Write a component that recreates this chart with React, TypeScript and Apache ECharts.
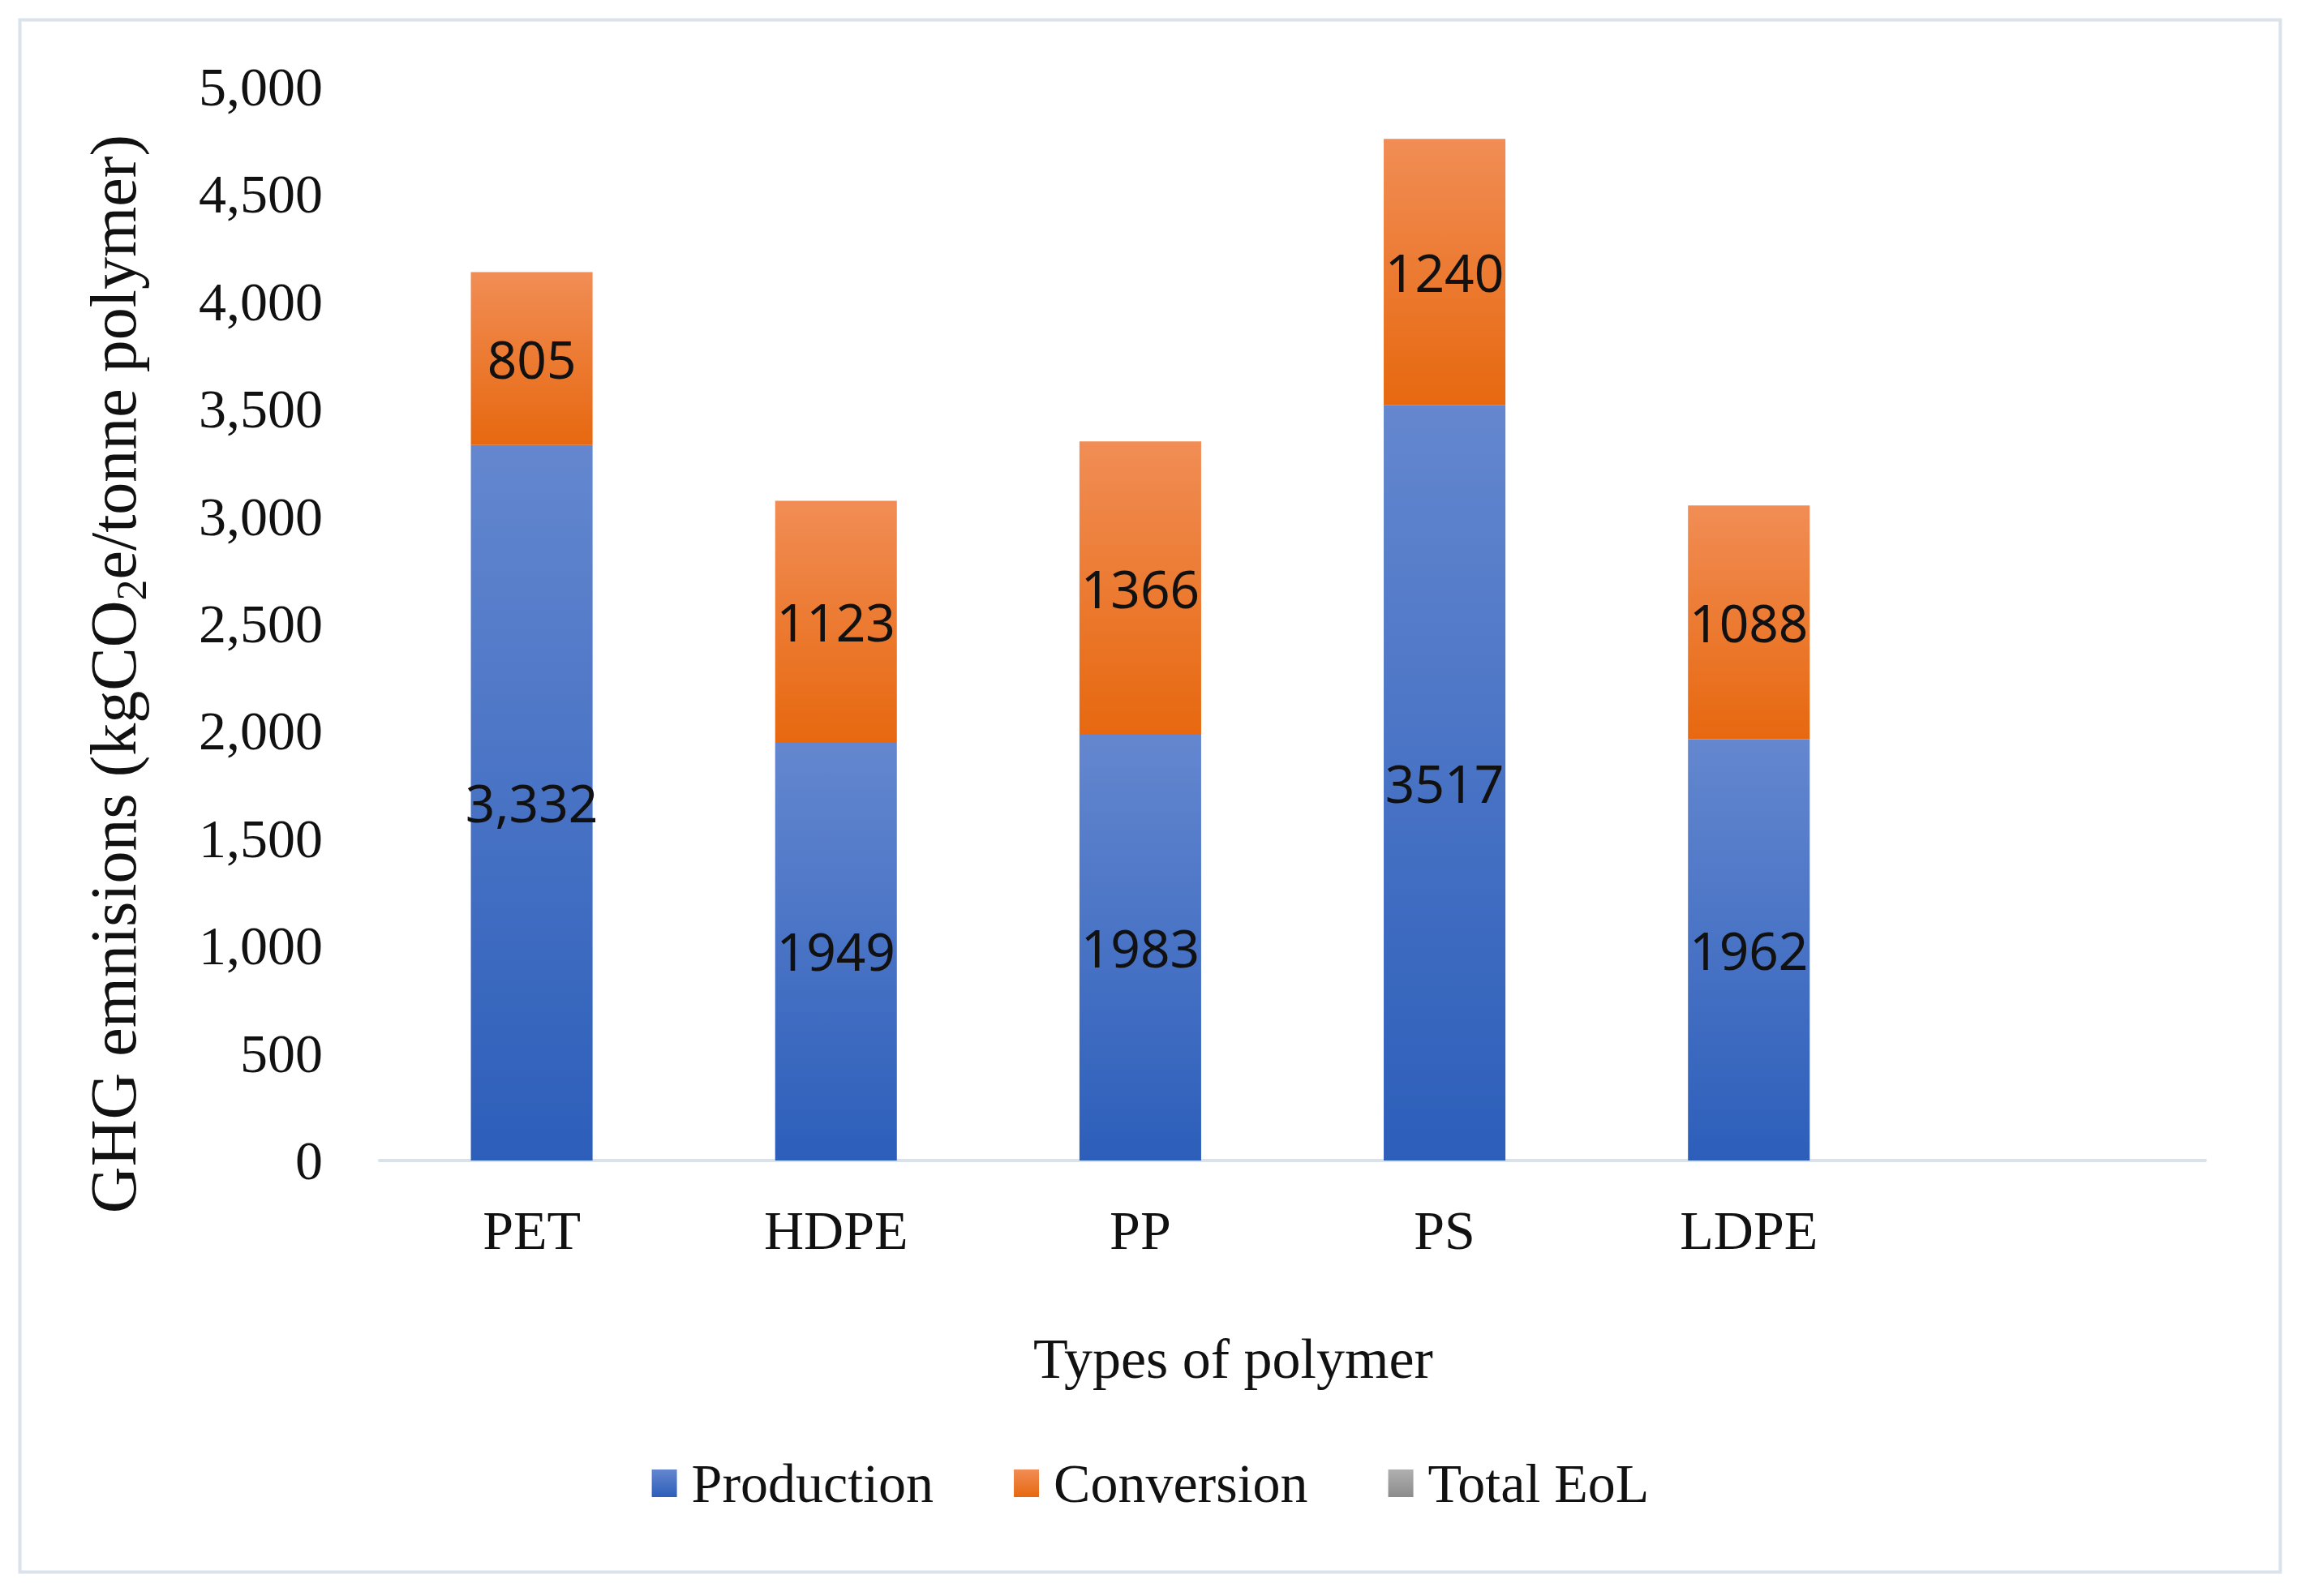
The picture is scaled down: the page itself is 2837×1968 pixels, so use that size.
import React, { useEffect, useRef } from "react";
import * as echarts from "echarts";

const categories = ["PET", "HDPE", "PP", "PS", "LDPE", ""];
const production = [3332, 1949, 1983, 3517, 1962];
const productionLabels = ["3,332", "1949", "1983", "3517", "1962"];
const conversion = [805, 1123, 1366, 1240, 1088];
const conversionLabels = ["805", "1123", "1366", "1240", "1088"];
const totalEoL = [0, 0, 0, 0, 0];
const seriesNames = ["Production", "Conversion", "Total EoL"];

const SERIF = "'Liberation Serif', 'Times New Roman', serif";
const SANS = "'Noto Sans', 'Open Sans', sans-serif";

const grad = (top: string, bottom: string) =>
  new echarts.graphic.LinearGradient(0, 0, 0, 1, [
    { offset: 0, color: top },
    { offset: 1, color: bottom },
  ]);

export default function App() {
  const ref = useRef<HTMLDivElement>(null);

  useEffect(() => {
    if (!ref.current) return;
    const chart = echarts.init(ref.current, undefined, { renderer: "svg" });
    const labelStyle = {
      show: true,
      position: "inside" as const,
      color: "#111111",
      fontFamily: SANS,
      fontSize: 64,
    };
    chart.setOption({
      animation: false,
      backgroundColor: "#ffffff",
      graphic: [
        {
          type: "rect",
          left: 22,
          top: 22,
          shape: { width: 2787, height: 1914 },
          style: { fill: "none", stroke: "#dae2eb", lineWidth: 4 },
          silent: true,
        },
      ],
      grid: { left: 468, right: 118, top: 107, bottom: 537, containLabel: false },
      legend: {
        data: seriesNames,
        left: "center",
        top: 1786,
        icon: "rect",
        itemWidth: 31,
        itemHeight: 34,
        itemGap: 99,
        textStyle: {
          fontFamily: SERIF,
          fontSize: 68,
          color: "#111111",
          lineHeight: 76,
          padding: [0, 0, 0, 13],
        },
      },
      xAxis: {
        type: "category",
        data: categories,
        name: "Types of polymer",
        nameLocation: "middle",
        nameGap: 209,
        nameTextStyle: {
          fontFamily: SERIF,
          fontSize: 70,
          color: "#111111",
          padding: [0, 146, 0, 0],
        },
        axisLine: { show: true, lineStyle: { color: "#d9e1ea", width: 4 } },
        axisTick: { show: false },
        axisLabel: {
          fontFamily: SERIF,
          fontSize: 68,
          color: "#111111",
          margin: 52,
        },
        splitLine: { show: false },
      },
      yAxis: {
        type: "value",
        min: 0,
        max: 5000,
        interval: 500,
        name: "{a|GHG emnisions (kgCO}{sub|2}{a|e/tonne polymer)}",
        nameLocation: "middle",
        nameRotate: 90,
        nameGap: 280,
        nameTextStyle: {
          padding: [0, 124, 0, 0],
          rich: {
            a: {
              fontFamily: SERIF,
              fontSize: 80,
              color: "#111111",
              lineHeight: 96,
              verticalAlign: "middle",
            },
            sub: {
              fontFamily: SERIF,
              fontSize: 52,
              color: "#111111",
              lineHeight: 96,
              verticalAlign: "bottom",
            },
          },
        },
        axisLine: { show: false },
        axisTick: { show: false },
        splitLine: { show: false },
        axisLabel: {
          fontFamily: SERIF,
          fontSize: 68,
          color: "#111111",
          margin: 70,
          formatter: (v: number) => v.toLocaleString("en-US"),
        },
      },
      series: [
        {
          name: seriesNames[0],
          type: "bar",
          stack: "total",
          barWidth: "40%",
          data: production,
          itemStyle: { color: grad("#6487cf", "#2c5eba") },
          label: {
            ...labelStyle,
            formatter: (p: any) => productionLabels[p.dataIndex],
          },
        },
        {
          name: seriesNames[1],
          type: "bar",
          stack: "total",
          barWidth: "40%",
          data: conversion,
          itemStyle: { color: grad("#f18d55", "#e7680f") },
          label: {
            ...labelStyle,
            formatter: (p: any) => conversionLabels[p.dataIndex],
          },
        },
        {
          name: seriesNames[2],
          type: "bar",
          stack: "total",
          barWidth: "40%",
          data: totalEoL,
          itemStyle: { color: grad("#b0b0b0", "#8c8c8c") },
          label: { show: false },
        },
      ],
    });
    return () => chart.dispose();
  }, []);

  return (
    <div
      ref={ref}
      style={{
        position: "fixed",
        left: 0,
        top: 0,
        width: 2837,
        height: 1968,
        background: "#ffffff",
      }}
    />
  );
}
